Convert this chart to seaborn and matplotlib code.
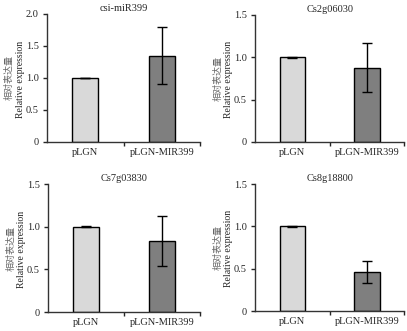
import matplotlib
matplotlib.use("Agg")
import matplotlib.pyplot as plt
import seaborn as sns
import numpy as np

sns.set_style("ticks")
plt.rcParams['font.family'] = ['Liberation Serif', 'Noto Sans CJK SC']

categories = ["pLGN", "pLGN-MIR399"]
titles = ["csi-miR399", "Cs2g06030", "Cs7g03830", "Cs8g18800"]
means = [[1.0, 1.35], [1.0, 0.875], [1.0, 0.83], [1.0, 0.465]]
errors = [[0.005, 0.44], [0.005, 0.29], [0.005, 0.295], [0.005, 0.13]]
ymax = [2.0, 1.5, 1.5, 1.5]
yticks = [[0, 0.5, 1.0, 1.5, 2.0], [0, 0.5, 1.0, 1.5], [0, 0.5, 1.0, 1.5], [0, 0.5, 1.0, 1.5]]
ytick_labels = [["0", "0.5", "1.0", "1.5", "2.0"], ["0", "0.5", "1.0", "1.5"],
                ["0", "0.5", "1.0", "1.5"], ["0", "0.5", "1.0", "1.5"]]
colors = ["#d9d9d9", "#7f7f7f"]

fig = plt.figure(figsize=(4.07, 3.31), dpi=100)
positions = [
    [0.1155, 0.571, 0.376, 0.387],
    [0.6265, 0.571, 0.367, 0.384],
    [0.118, 0.057, 0.373, 0.387],
    [0.6265, 0.060, 0.367, 0.384],
]

fs = 7.5
for i in range(4):
    ax = fig.add_axes(positions[i])
    sns.barplot(x=categories, y=means[i], hue=categories, palette=colors,
                width=0.34, edgecolor="black", linewidth=1.0, legend=False,
                errorbar=None, ax=ax)
    ax.errorbar([0, 1], means[i], yerr=errors[i], fmt="none", ecolor="black",
                elinewidth=1.0, capsize=3.5, capthick=1.0)
    ax.set_xlim(-0.5, 1.5)
    ax.set_ylim(0, ymax[i])
    ax.set_yticks(yticks[i])
    ax.set_yticklabels(ytick_labels[i], fontsize=fs)
    ax.set_xticks([0.5, 1.5])
    ax.set_xticklabels(["", ""])
    ax.set_xticks([0, 1], minor=True)
    ax.set_xticklabels(categories, minor=True, fontsize=fs)
    ax.tick_params(axis="x", which="minor", length=0, pad=4)
    ax.tick_params(axis="x", which="major", length=3, width=1, direction="out")
    ax.tick_params(axis="y", length=3, width=1, direction="out", pad=3)
    for s in ["top", "right"]:
        ax.spines[s].set_visible(False)
    for s in ["left", "bottom"]:
        ax.spines[s].set_linewidth(1.0)
        ax.spines[s].set_color("#333333")
    ax.set_xlabel("")
    ax.set_ylabel("")
    ax.set_title(titles[i], fontsize=fs, pad=2)
    ax.text(-0.245, 0.5, "相对表达量", transform=ax.transAxes, rotation=90,
            ha="center", va="center", fontsize=6.5, color="#666666",
            family=["Noto Sans CJK SC", "DejaVu Sans"])
    ax.text(-0.175, 0.49, "Relative expression", transform=ax.transAxes, rotation=90,
            ha="center", va="center", fontsize=7)

fig.savefig("out.png", dpi=100)
